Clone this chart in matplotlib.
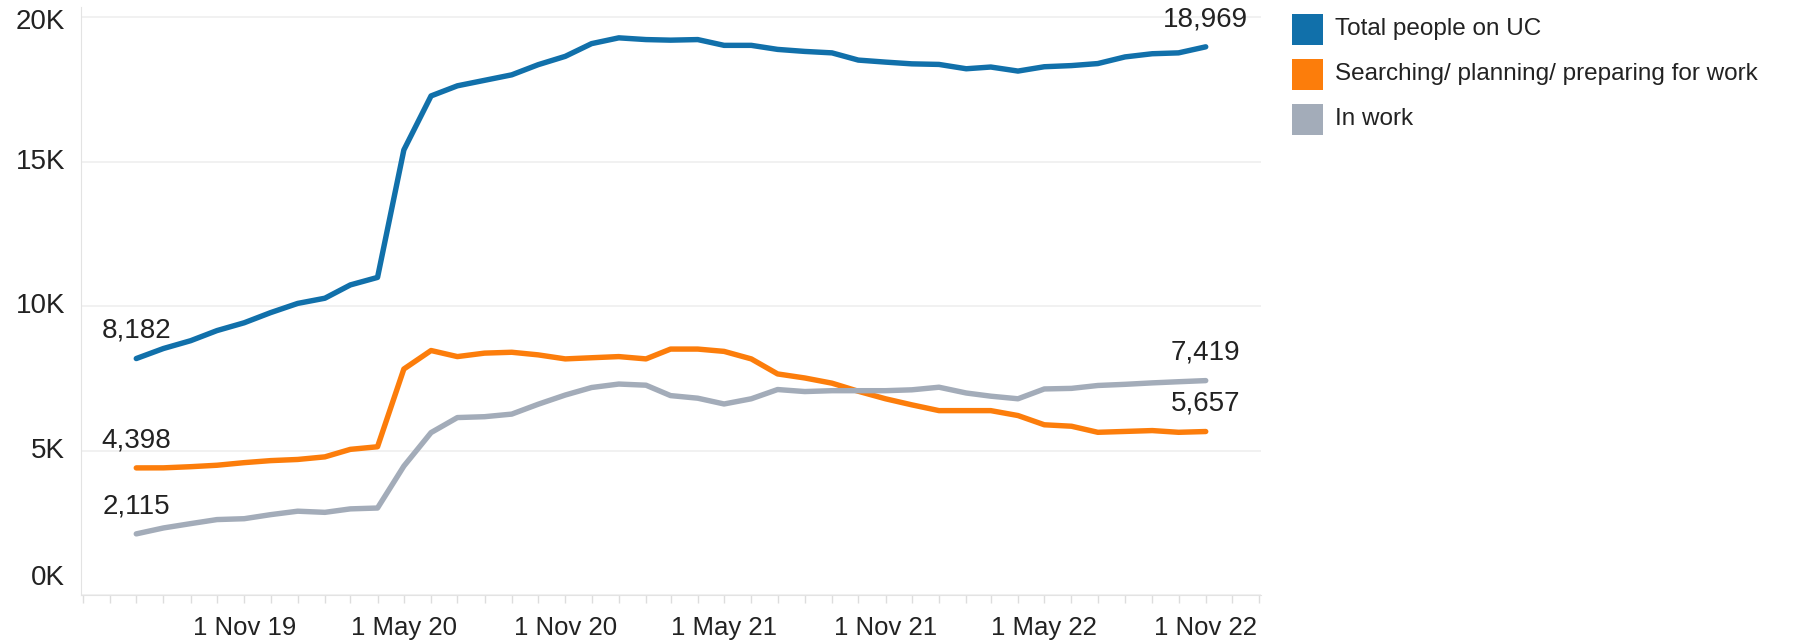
import numpy as np
import pandas as pd
import matplotlib
matplotlib.use("Agg")
import matplotlib.pyplot as plt
import matplotlib.dates as mdates
import matplotlib.transforms as mtransforms
from matplotlib.patches import Rectangle
from matplotlib.ticker import FuncFormatter

plt.rcParams['font.family'] = ['Liberation Sans', 'DejaVu Sans']

# monthly counts, Jul 2019 .. Nov 2022
months = pd.date_range("2019-07-01", "2022-11-01", freq="MS")
total_uc = [8182, 8530, 8800, 9150, 9420, 9770, 10090, 10270, 10730, 10990,
            15400, 17270, 17620, 17810, 18000, 18350, 18640, 19080, 19280, 19220,
            19200, 19220, 19020, 19020, 18880, 18810, 18760, 18510, 18440, 18380,
            18360, 18210, 18270, 18130, 18280, 18320, 18390, 18620, 18730, 18760,
            18969]
searching = [4398, 4400, 4440, 4490, 4580, 4650, 4690, 4780, 5040, 5130,
             7820, 8460, 8250, 8370, 8400, 8310, 8170, 8210, 8250, 8170,
             8510, 8510, 8430, 8170, 7650, 7510, 7330, 7050, 6790, 6580,
             6380, 6380, 6380, 6210, 5890, 5840, 5630, 5660, 5690, 5630,
             5657]
in_work = [2115, 2320, 2470, 2610, 2640, 2780, 2900, 2860, 2980, 3010,
           4460, 5620, 6140, 6170, 6260, 6600, 6920, 7180, 7300, 7260,
           6900, 6810, 6610, 6790, 7110, 7040, 7070, 7070, 7070, 7100,
           7190, 6990, 6880, 6790, 7130, 7150, 7250, 7290, 7340, 7380,
           7419]
series_names = ["Total people on UC", "Searching/ planning/ preparing for work", "In work"]
colors = ["#1170AA", "#FC7D0B", "#A3ACB9"]
yticks = [0, 5000, 10000, 15000, 20000]

W, H = 1819, 641
fig = plt.figure(figsize=(W / 100, H / 100), dpi=100)
# axes in pixel terms: x 81..1261, y 7..595 (20K line ~17px)
ymax = 20000 + 10 / 28.8 * 1000
ax = fig.add_axes([81 / W, 1 - 595 / H, 1180 / W, 588 / H])

for vals, col in zip([total_uc, searching, in_work], colors):
    ax.plot(months, vals, color=col, lw=3.9, solid_capstyle='round', zorder=3)
    for i in (0, -1):
        ax.annotate(f"{vals[i]:,}", xy=(months[i], vals[i]), xytext=(0, 20),
                    textcoords='offset points', ha='center', va='center',
                    fontsize=20, color='#222222', annotation_clip=False)

ax.set_xlim(pd.Timestamp("2019-04-29"), pd.Timestamp("2023-01-03"))
ax.set_ylim(0, ymax)
ax.set_yticks(yticks)
ax.set_yticklabels([])
ax.grid(axis='y', color='#efefef', lw=1.2, zorder=0)

# y labels, Tableau style: end labels pushed inside the pane
ytrans = mtransforms.blended_transform_factory(ax.transAxes, ax.transData)
for v in yticks:
    dy = {0: 17, 20000: -5}.get(v, 0)
    t = ytrans + mtransforms.ScaledTranslation(-16 / 100, dy / 100, fig.dpi_scale_trans)
    ax.text(0, v, f"{v / 1000:.0f}K", transform=t, ha='right', va='center',
            fontsize=20, color='#222222')

ax.xaxis.set_major_locator(mdates.MonthLocator(bymonth=[5, 11]))
ax.xaxis.set_minor_locator(mdates.MonthLocator())
first_label = mdates.date2num(pd.Timestamp("2019-07-01"))
ax.xaxis.set_major_formatter(FuncFormatter(
    lambda v, p: "" if v < first_label else "1 " + mdates.num2date(v).strftime("%b %y")))
ax.tick_params(axis='x', which='both', length=6, color='#dddddd', width=1)
ax.tick_params(axis='x', which='major', labelsize=18.5, labelcolor='#222222', pad=9)
ax.tick_params(axis='y', length=0)

for s in ['top', 'right']:
    ax.spines[s].set_visible(False)
for s in ['left', 'bottom']:
    ax.spines[s].set_color('#e3e3e3')

# legend drawn as squares + text in figure pixels
for i, (name, col) in enumerate(zip(series_names, colors)):
    top = 14 + i * 45
    fig.add_artist(Rectangle((1292 / W, 1 - (top + 31) / H), 31 / W, 31 / H,
                             transform=fig.transFigure, facecolor=col, edgecolor='none'))
    fig.text(1335 / W, 1 - (top + 15) / H, name, ha='left', va='center',
             fontsize=17.5, color='#222222')

fig.savefig("out.png", dpi=100)
